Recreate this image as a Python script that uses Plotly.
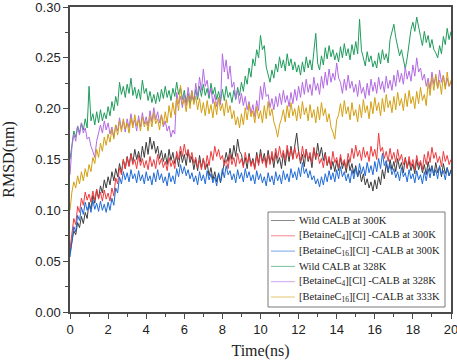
import plotly.graph_objects as go

# sample grid (ns), 0.1 ns spacing
time_ns = [round(i * 0.1, 1) for i in range(201)]

wild_300 = [
    0.058, 0.068, 0.080, 0.076, 0.088, 0.083, 0.094, 0.087, 0.098, 0.092,
    0.108, 0.101, 0.115, 0.107, 0.120, 0.112, 0.124, 0.117, 0.130, 0.122,
    0.133, 0.125, 0.138, 0.129, 0.141, 0.133, 0.146, 0.137, 0.150, 0.141,
    0.153, 0.144, 0.156, 0.147, 0.160, 0.150, 0.158, 0.148, 0.163, 0.152,
    0.167, 0.155, 0.172, 0.160, 0.168, 0.156, 0.163, 0.151, 0.159, 0.148,
    0.156, 0.145, 0.160, 0.149, 0.157, 0.146, 0.154, 0.143, 0.158, 0.147,
    0.155, 0.144, 0.159, 0.147, 0.153, 0.140, 0.150, 0.139, 0.154, 0.142,
    0.151, 0.140, 0.146, 0.134, 0.142, 0.130, 0.138, 0.128, 0.136, 0.127,
    0.138, 0.146, 0.157, 0.148, 0.161, 0.150, 0.164, 0.153, 0.170, 0.158,
    0.155, 0.144, 0.152, 0.141, 0.156, 0.145, 0.151, 0.142, 0.157, 0.146,
    0.160, 0.148, 0.156, 0.145, 0.159, 0.147, 0.154, 0.142, 0.157, 0.146,
    0.152, 0.141, 0.156, 0.144, 0.160, 0.148, 0.163, 0.151, 0.165, 0.176,
    0.158, 0.146, 0.155, 0.143, 0.160, 0.148, 0.154, 0.142, 0.161, 0.150,
    0.166, 0.153, 0.162, 0.149, 0.157, 0.144, 0.151, 0.140, 0.148, 0.138,
    0.149, 0.139, 0.152, 0.141, 0.148, 0.137, 0.150, 0.139, 0.146, 0.136,
    0.144, 0.133, 0.139, 0.128, 0.136, 0.125, 0.131, 0.122, 0.128, 0.119,
    0.130, 0.121, 0.133, 0.125, 0.140, 0.131, 0.146, 0.137, 0.150, 0.140,
    0.148, 0.138, 0.151, 0.141, 0.147, 0.137, 0.152, 0.142, 0.149, 0.139,
    0.146, 0.136, 0.150, 0.140, 0.147, 0.137, 0.145, 0.135, 0.148, 0.138,
    0.144, 0.134, 0.147, 0.137, 0.143, 0.133, 0.146, 0.136, 0.142, 0.134,
    0.140,
]

c4_300 = [
    0.062, 0.075, 0.092, 0.086, 0.104, 0.098, 0.112, 0.105, 0.118, 0.110,
    0.116, 0.108, 0.119, 0.110, 0.121, 0.111, 0.118, 0.109, 0.120, 0.111,
    0.117, 0.109, 0.122, 0.114, 0.132, 0.126, 0.142, 0.135, 0.150, 0.141,
    0.152, 0.143, 0.155, 0.145, 0.150, 0.141, 0.154, 0.144, 0.151, 0.142,
    0.149, 0.140, 0.153, 0.143, 0.150, 0.141, 0.155, 0.145, 0.151, 0.142,
    0.148, 0.139, 0.152, 0.143, 0.149, 0.141, 0.158, 0.150, 0.163, 0.153,
    0.165, 0.154, 0.160, 0.150, 0.157, 0.146, 0.152, 0.142, 0.149, 0.140,
    0.151, 0.141, 0.154, 0.144, 0.158, 0.149, 0.163, 0.153, 0.160, 0.150,
    0.154, 0.144, 0.150, 0.141, 0.155, 0.145, 0.152, 0.143, 0.156, 0.146,
    0.151, 0.142, 0.157, 0.147, 0.153, 0.143, 0.149, 0.140, 0.154, 0.144,
    0.156, 0.146, 0.152, 0.142, 0.155, 0.145, 0.158, 0.148, 0.161, 0.151,
    0.163, 0.152, 0.159, 0.149, 0.164, 0.153, 0.160, 0.150, 0.162, 0.151,
    0.158, 0.148, 0.163, 0.152, 0.160, 0.150, 0.157, 0.147, 0.162, 0.152,
    0.156, 0.146, 0.151, 0.142, 0.155, 0.145, 0.153, 0.143, 0.158, 0.147,
    0.152, 0.142, 0.155, 0.145, 0.150, 0.141, 0.156, 0.147, 0.161, 0.151,
    0.164, 0.153, 0.159, 0.149, 0.162, 0.152, 0.158, 0.148, 0.163, 0.153,
    0.160, 0.150, 0.176, 0.158, 0.162, 0.151, 0.158, 0.148, 0.161, 0.150,
    0.157, 0.147, 0.160, 0.149, 0.155, 0.145, 0.151, 0.141, 0.153, 0.143,
    0.150, 0.140, 0.154, 0.144, 0.149, 0.140, 0.155, 0.145, 0.158, 0.147,
    0.162, 0.151, 0.157, 0.147, 0.153, 0.143, 0.158, 0.148, 0.154, 0.145,
    0.150,
]

c16_300 = [
    0.054, 0.068, 0.084, 0.079, 0.095, 0.090, 0.103, 0.096, 0.108, 0.100,
    0.106, 0.098, 0.110, 0.101, 0.107, 0.099, 0.109, 0.100, 0.106, 0.098,
    0.108, 0.100, 0.112, 0.105, 0.122, 0.117, 0.133, 0.126, 0.138, 0.130,
    0.137, 0.128, 0.140, 0.131, 0.136, 0.127, 0.139, 0.129, 0.135, 0.126,
    0.138, 0.129, 0.134, 0.125, 0.137, 0.128, 0.140, 0.130, 0.136, 0.127,
    0.133, 0.124, 0.137, 0.128, 0.134, 0.126, 0.141, 0.133, 0.145, 0.136,
    0.143, 0.134, 0.140, 0.131, 0.137, 0.128, 0.134, 0.125, 0.138, 0.129,
    0.135, 0.126, 0.139, 0.130, 0.136, 0.127, 0.133, 0.124, 0.137, 0.128,
    0.141, 0.132, 0.144, 0.135, 0.139, 0.130, 0.136, 0.127, 0.140, 0.131,
    0.137, 0.128, 0.141, 0.132, 0.138, 0.129, 0.135, 0.126, 0.139, 0.130,
    0.136, 0.127, 0.133, 0.124, 0.137, 0.128, 0.134, 0.125, 0.138, 0.129,
    0.135, 0.126, 0.139, 0.130, 0.136, 0.128, 0.141, 0.132, 0.138, 0.130,
    0.142, 0.133, 0.147, 0.136, 0.141, 0.132, 0.139, 0.130, 0.134, 0.126,
    0.131, 0.123, 0.133, 0.125, 0.136, 0.128, 0.139, 0.130, 0.137, 0.128,
    0.140, 0.131, 0.143, 0.133, 0.138, 0.129, 0.136, 0.127, 0.140, 0.131,
    0.142, 0.133, 0.146, 0.136, 0.143, 0.134, 0.147, 0.137, 0.144, 0.135,
    0.148, 0.138, 0.151, 0.141, 0.156, 0.144, 0.149, 0.139, 0.145, 0.135,
    0.141, 0.132, 0.138, 0.129, 0.142, 0.133, 0.137, 0.128, 0.140, 0.131,
    0.136, 0.127, 0.139, 0.130, 0.135, 0.126, 0.138, 0.129, 0.141, 0.132,
    0.143, 0.134, 0.140, 0.131, 0.144, 0.135, 0.139, 0.130, 0.142, 0.134,
    0.138,
]

wild_328 = [
    0.150, 0.165, 0.178, 0.172, 0.183, 0.176, 0.186, 0.179, 0.190, 0.181,
    0.222, 0.188, 0.195, 0.184, 0.197, 0.186, 0.199, 0.188, 0.196, 0.190,
    0.202, 0.193, 0.207, 0.198, 0.212, 0.203, 0.226, 0.214, 0.222, 0.211,
    0.224, 0.215, 0.230, 0.213, 0.221, 0.210, 0.219, 0.209, 0.228, 0.215,
    0.220, 0.208, 0.217, 0.206, 0.214, 0.205, 0.216, 0.207, 0.219, 0.210,
    0.222, 0.211, 0.218, 0.208, 0.220, 0.212, 0.226, 0.214, 0.221, 0.209,
    0.218, 0.206, 0.215, 0.204, 0.213, 0.207, 0.219, 0.209, 0.222, 0.212,
    0.224, 0.213, 0.220, 0.210, 0.225, 0.214, 0.221, 0.209, 0.217, 0.207,
    0.219, 0.208, 0.222, 0.211, 0.216, 0.206, 0.218, 0.209, 0.221, 0.213,
    0.226, 0.217, 0.232, 0.224, 0.240, 0.231, 0.249, 0.242, 0.258, 0.250,
    0.272, 0.258, 0.262, 0.241, 0.233, 0.226, 0.238, 0.230, 0.244, 0.236,
    0.251, 0.240, 0.248, 0.237, 0.254, 0.242, 0.249, 0.238, 0.246, 0.236,
    0.243, 0.233, 0.246, 0.236, 0.251, 0.240, 0.248, 0.238, 0.256, 0.274,
    0.245, 0.238, 0.252, 0.243, 0.260, 0.249, 0.262, 0.251, 0.258, 0.248,
    0.255, 0.246, 0.261, 0.250, 0.264, 0.252, 0.259, 0.248, 0.263, 0.253,
    0.266, 0.254, 0.288, 0.257, 0.250, 0.242, 0.256, 0.246, 0.252, 0.241,
    0.247, 0.240, 0.255, 0.244, 0.258, 0.248, 0.254, 0.245, 0.268, 0.276,
    0.283, 0.270, 0.262, 0.252, 0.258, 0.247, 0.239, 0.250, 0.265, 0.278,
    0.285, 0.276, 0.290, 0.279, 0.271, 0.262, 0.276, 0.265, 0.272, 0.260,
    0.268, 0.258, 0.255, 0.250, 0.262, 0.254, 0.271, 0.263, 0.279, 0.268,
    0.276,
]

c4_328 = [
    0.135, 0.162, 0.175, 0.168, 0.183, 0.174, 0.186, 0.176, 0.181, 0.170,
    0.172, 0.163, 0.158, 0.152, 0.168, 0.175, 0.184, 0.176, 0.188, 0.179,
    0.186, 0.175, 0.182, 0.172, 0.184, 0.178, 0.191, 0.180, 0.188, 0.177,
    0.190, 0.181, 0.195, 0.184, 0.189, 0.178, 0.193, 0.182, 0.196, 0.185,
    0.192, 0.183, 0.198, 0.187, 0.201, 0.189, 0.197, 0.186, 0.194, 0.182,
    0.188, 0.178, 0.183, 0.172, 0.179, 0.175, 0.216, 0.205, 0.212, 0.201,
    0.214, 0.203, 0.221, 0.208, 0.218, 0.206, 0.225, 0.212, 0.231, 0.218,
    0.239, 0.222, 0.228, 0.213, 0.220, 0.205, 0.214, 0.202, 0.211, 0.204,
    0.254, 0.236, 0.248, 0.229, 0.242, 0.221, 0.226, 0.210, 0.218, 0.205,
    0.215, 0.203, 0.212, 0.199, 0.207, 0.195, 0.204, 0.192, 0.208, 0.198,
    0.222, 0.209, 0.226, 0.212, 0.214, 0.201, 0.210, 0.199, 0.212, 0.202,
    0.215, 0.204, 0.218, 0.206, 0.213, 0.202, 0.216, 0.205, 0.219, 0.208,
    0.222, 0.211, 0.226, 0.214, 0.229, 0.216, 0.224, 0.213, 0.231, 0.218,
    0.225, 0.214, 0.232, 0.220, 0.236, 0.223, 0.239, 0.226, 0.235, 0.228,
    0.245, 0.230, 0.226, 0.215, 0.229, 0.218, 0.233, 0.220, 0.227, 0.216,
    0.224, 0.212, 0.228, 0.215, 0.221, 0.210, 0.225, 0.213, 0.229, 0.217,
    0.226, 0.215, 0.231, 0.219, 0.227, 0.216, 0.232, 0.220, 0.228, 0.218,
    0.233, 0.222, 0.238, 0.226, 0.235, 0.224, 0.241, 0.229, 0.237, 0.227,
    0.243, 0.232, 0.250, 0.236, 0.240, 0.228, 0.234, 0.222, 0.230, 0.219,
    0.236, 0.224, 0.232, 0.220, 0.238, 0.226, 0.233, 0.221, 0.230, 0.222,
    0.226,
]

c16_333 = [
    0.100, 0.118, 0.128, 0.122, 0.134, 0.126, 0.138, 0.129, 0.141, 0.133,
    0.145, 0.138, 0.152, 0.146, 0.160, 0.152, 0.166, 0.158, 0.172, 0.164,
    0.175, 0.167, 0.180, 0.170, 0.184, 0.174, 0.188, 0.177, 0.190, 0.180,
    0.186, 0.176, 0.191, 0.181, 0.194, 0.183, 0.189, 0.178, 0.192, 0.182,
    0.188, 0.178, 0.193, 0.182, 0.196, 0.185, 0.190, 0.179, 0.194, 0.184,
    0.197, 0.186, 0.203, 0.191, 0.206, 0.194, 0.210, 0.198, 0.223, 0.204,
    0.209, 0.197, 0.213, 0.200, 0.217, 0.204, 0.212, 0.199, 0.210, 0.196,
    0.206, 0.193, 0.208, 0.195, 0.204, 0.191, 0.207, 0.194, 0.211, 0.198,
    0.205, 0.193, 0.209, 0.196, 0.203, 0.190, 0.198, 0.184, 0.192, 0.181,
    0.195, 0.184, 0.201, 0.189, 0.205, 0.192, 0.198, 0.186, 0.202, 0.190,
    0.198, 0.186, 0.203, 0.190, 0.207, 0.193, 0.200, 0.187, 0.181, 0.172,
    0.184, 0.190, 0.199, 0.187, 0.203, 0.191, 0.206, 0.193, 0.200, 0.188,
    0.203, 0.190, 0.207, 0.194, 0.201, 0.188, 0.204, 0.191, 0.199, 0.186,
    0.202, 0.189, 0.206, 0.193, 0.200, 0.187, 0.195, 0.182, 0.177, 0.170,
    0.189, 0.194, 0.205, 0.192, 0.208, 0.195, 0.202, 0.189, 0.206, 0.193,
    0.199, 0.187, 0.204, 0.191, 0.209, 0.196, 0.203, 0.190, 0.207, 0.195,
    0.211, 0.198, 0.206, 0.193, 0.210, 0.197, 0.214, 0.201, 0.208, 0.196,
    0.212, 0.199, 0.216, 0.203, 0.210, 0.198, 0.215, 0.202, 0.218, 0.205,
    0.212, 0.200, 0.217, 0.205, 0.221, 0.208, 0.214, 0.203, 0.226, 0.213,
    0.231, 0.218, 0.234, 0.220, 0.228, 0.214, 0.233, 0.219, 0.236, 0.222,
    0.228,
]

series_names = [
    "Wild CALB at 300K",
    "[BetaineC<sub>4</sub>][Cl] -CALB at 300K",
    "[BetaineC<sub>16</sub>][Cl] -CALB at 300K",
    "Wild CALB at 328K",
    "[BetaineC<sub>4</sub>][Cl] -CALB at 328K",
    "[BetaineC<sub>16</sub>][Cl] -CALB at 333K",
]
series_values = [wild_300, c4_300, c16_300, wild_328, c4_328, c16_333]
series_colors = ["#3c3c3c", "#f03a3e", "#1f6ad8", "#1f9c5c", "#b36ae3", "#d49f12"]

W, H = 457, 362
ML, MR, MT, MB = 70, 6, 7, 50
PW, PH = W - ML - MR, H - MT - MB


def px_x(px):
    return (px - ML) / PW


def px_y(py):
    return (H - MB - py) / PH


fig = go.Figure()
for name, vals, col in zip(series_names, series_values, series_colors):
    fig.add_trace(go.Scatter(x=time_ns, y=vals, mode="lines", name=name,
                             line=dict(color=col, width=1), showlegend=False))

axis_common = dict(
    showgrid=False, zeroline=False, showline=True, mirror=True,
    linecolor="#4a4a4a", linewidth=1.5, automargin=False,
    ticks="outside", ticklen=5, tickwidth=1.2, tickcolor="#4a4a4a",
    ticklabeloverflow="allow",
    tickfont=dict(family="Liberation Sans, Arial", size=13, color="#222"),
)

fig.update_xaxes(
    range=[0, 20], dtick=2, tick0=0,
    minor=dict(dtick=1, ticks="outside", ticklen=3, tickcolor="#4a4a4a"),
    title=dict(text="Time(ns)", font=dict(family="Liberation Serif, Times New Roman", size=16, color="#222"),
               standoff=8),
    **axis_common,
)
fig.update_yaxes(
    range=[0, 0.30], dtick=0.05, tick0=0, tickformat=".2f",
    minor=dict(dtick=0.025, ticks="outside", ticklen=3, tickcolor="#4a4a4a"),
    title=dict(text="RMSD(nm)", font=dict(family="Liberation Serif, Times New Roman", size=16, color="#222"),
               standoff=17),
    **axis_common,
)

# manual legend box (pixel layout converted to paper coordinates)
leg_left, leg_right, leg_top, leg_bottom = 268, 445, 212, 307
fig.add_shape(type="rect", xref="paper", yref="paper",
              x0=px_x(leg_left), x1=px_x(leg_right), y0=px_y(leg_bottom), y1=px_y(leg_top),
              line=dict(color="#7a7a7a", width=1), fillcolor="white", layer="above")
row_y = [220.5, 235.8, 251.1, 266.4, 281.7, 297.0]
for name, col, ry in zip(series_names, series_colors, row_y):
    fig.add_shape(type="line", xref="paper", yref="paper",
                  x0=px_x(271), x1=px_x(295), y0=px_y(ry), y1=px_y(ry),
                  line=dict(color=col, width=1), opacity=0.6, layer="above")
    fig.add_annotation(xref="paper", yref="paper", x=px_x(297), y=px_y(ry),
                       xanchor="left", yanchor="middle", text=name, showarrow=False,
                       font=dict(family="Liberation Serif, Times New Roman", size=10.5, color="#222"))

fig.update_layout(
    width=W, height=H,
    margin=dict(l=ML, r=MR, t=MT, b=MB),
    plot_bgcolor="white", paper_bgcolor="white",
    showlegend=False,
)

fig.write_html("out.html", config={"displayModeBar": False},
               post_script="document.body.style.margin='0';")
